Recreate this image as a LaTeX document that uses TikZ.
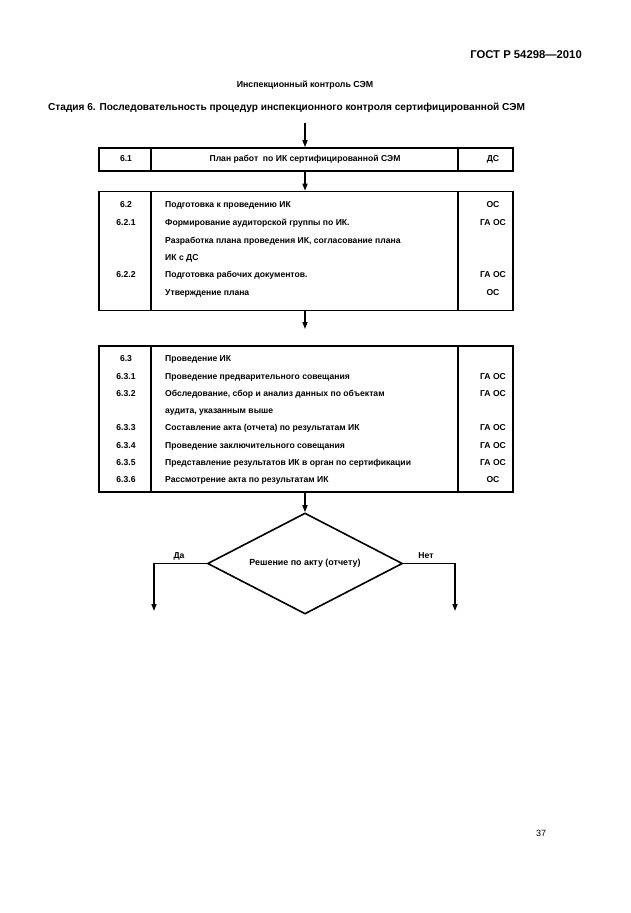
\documentclass[tikz,border=0pt]{standalone}
\usepackage{fontspec}
\setmainfont{Liberation Sans}
\usetikzlibrary{arrows.meta, positioning, shapes.geometric}

\tikzset{
  box/.style={draw, line width=1.6pt, rectangle, inner sep=0pt},
  sep/.style={line width=1.2pt},
  cell/.style={font=\bfseries\fontsize{8.6}{10}\selectfont, inner sep=0pt, text height=6.2pt, text depth=1.8pt},
  arr/.style={-{Triangle[length=7pt,width=5pt]}, line width=1.4pt},
}

\begin{document}
\begin{tikzpicture}[x=1pt, y=-1pt]
    \useasboundingbox (0,0) rectangle (630,913);

    % шапка
    \node[anchor=east, inner sep=0pt, font=\bfseries\fontsize{11.3}{13}\selectfont] (gost) at (582,55) {ГОСТ Р 54298—2010};
    \node[inner sep=0pt, font=\bfseries\fontsize{8.8}{10}\selectfont] (title) at (305,85) {Инспекционный контроль СЭМ};
    \node[anchor=west, inner sep=0pt, font=\bfseries\fontsize{10.1}{12}\selectfont] (stage) at (48,108) {Стадия 6. Последовательность процедур инспекционного контроля сертифицированной СЭМ};

    % блок 6.1
    \node[box, minimum width=414pt, minimum height=23pt] (b1) at (306,159.5) {};
    \draw[sep] (151,148) -- (151,171);
    \draw[sep] (458,148) -- (458,171);
    \node[cell] (n1) at (126,159.5) {6.1};
    \node[cell] (t1) at (305,159.5) {План работ \ по ИК сертифицированной СЭМ};
    \node[cell] (r1) at (493,159.5) {ДС};

    % блок 6.2
    \node[box, minimum width=414pt, minimum height=119pt] (b2) at (306,251) {};
    \draw[sep] (151,191.5) -- (151,310.5);
    \draw[sep] (458,191.5) -- (458,310.5);
    \foreach \y/\n/\t/\r [count=\i] in {
        205/6.2/{Подготовка к проведению ИК}/ОС,
        223/6.2.1/{Формирование аудиторской группы по ИК.}/ГА ОС,
        241//{Разработка плана проведения ИК, согласование плана}/,
        258//{ИК с ДС}/,
        275/6.2.2/{Подготовка рабочих документов.}/ГА ОС,
        293//{Утверждение плана}/ОС} {
        \node[cell] (n2-\i) at (126,\y) {\n};
        \node[cell, anchor=west] (t2-\i) at (165,\y) {\t};
        \node[cell] (r2-\i) at (493,\y) {\r};
    }

    % блок 6.3
    \node[box, minimum width=414pt, minimum height=146pt] (b3) at (306,419) {};
    \draw[sep] (151,346) -- (151,492);
    \draw[sep] (458,346) -- (458,492);
    \foreach \y/\n/\t/\r [count=\i] in {
        359/6.3/{Проведение ИК}/,
        377/6.3.1/{Проведение предварительного совещания}/ГА ОС,
        394/6.3.2/{Обследование, сбор и анализ данных по объектам}/ГА ОС,
        411//{аудита, указанным выше}/,
        428/6.3.3/{Составление акта (отчета) по результатам ИК}/ГА ОС,
        446/6.3.4/{Проведение заключительного совещания}/ГА ОС,
        463/6.3.5/{Представление результатов ИК в орган по сертификации}/ГА ОС,
        480/6.3.6/{Рассмотрение акта по результатам ИК}/ОС} {
        \node[cell] (n3-\i) at (126,\y) {\n};
        \node[cell, anchor=west] (t3-\i) at (165,\y) {\t};
        \node[cell] (r3-\i) at (493,\y) {\r};
    }

    % решение
    \node[draw, diamond, aspect=1.93, line width=1.6pt, minimum width=195pt, minimum height=101pt, cell, font=\bfseries\fontsize{8.9}{10}\selectfont] (dec) at (305,563.5) {Решение по акту (отчету)};

    % стрелки
    \coordinate (in) at (305,123);
    \coordinate (out) at (305,329);
    \coordinate (yes) at (154,611);
    \coordinate (no) at (455,611);
    \draw[arr] (in) -- (b1.north -| in);
    \draw[arr] (b1.south -| in) -- (b2.north -| in);
    \draw[arr] (b2.south -| in) -- (out);
    \draw[arr] (b3.south -| in) -- (dec.north);
    \draw[arr] (dec.west) -| (yes);
    \draw[arr] (dec.east) -| (no);
    \node[cell] (da) at (179,556) {Да};
    \node[cell] (net) at (426,556) {Нет};

    % номер страницы
    \node[font=\fontsize{9}{10}\selectfont] (page) at (541,833) {37};
\end{tikzpicture}
\end{document}
